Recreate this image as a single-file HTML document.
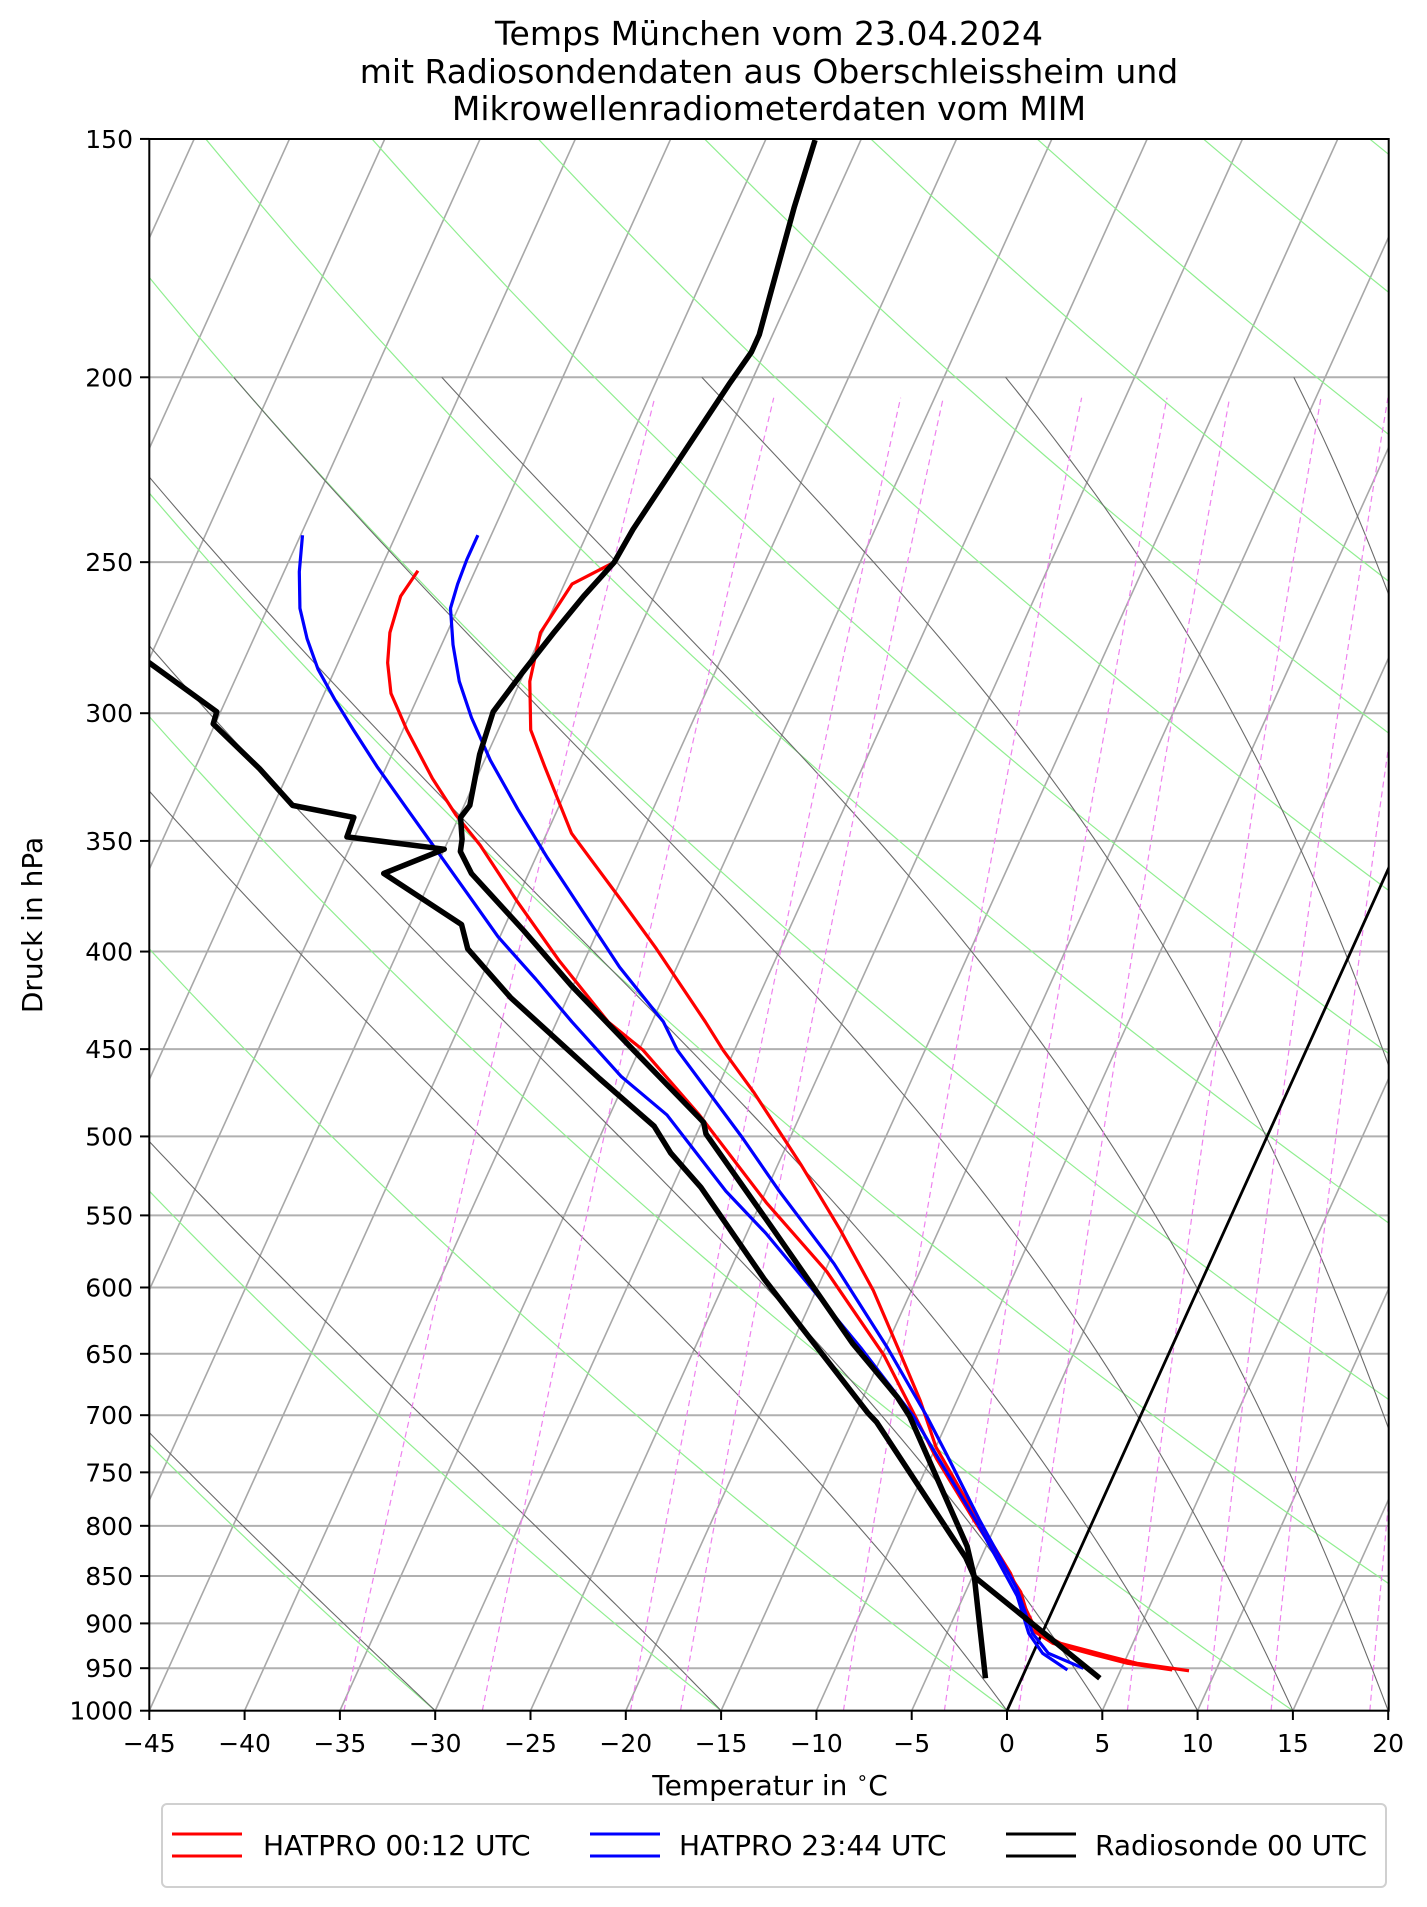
<!DOCTYPE html>
<html><head><meta charset="utf-8"><title>Skew-T</title>
<style>
body{margin:0;background:#fff;}
svg{display:block;font-family:"DejaVu Sans","Liberation Sans",sans-serif;}
</style></head>
<body>
<svg id="chart" width="1427" height="1907" viewBox="0 0 1427 1907" xmlns="http://www.w3.org/2000/svg">
<defs><clipPath id="plotclip"><rect x="149.3" y="139" width="1239.4" height="1571.7"/></clipPath></defs>
<rect width="1427" height="1907" fill="#fff"/>
<g font-size="33" text-anchor="middle" fill="#000">
<text x="769" y="45">Temps München vom 23.04.2024</text>
<text x="769" y="83">mit Radiosondendaten aus Oberschleissheim und</text>
<text x="769" y="120">Mikrowellenradiometerdaten vom MIM</text>
</g>
<g id="bg" clip-path="url(#plotclip)"></g>
<g id="series" clip-path="url(#plotclip)"></g>
<rect x="149.3" y="139" width="1239.4" height="1571.7" fill="none" stroke="#000" stroke-width="2"/>
<g id="axes"></g>
<text x="770" y="1795" font-size="28" text-anchor="middle">Temperatur in <tspan font-size="19" dy="-11">∘</tspan><tspan dy="11">C</tspan></text>
<text x="0" y="0" font-size="28" text-anchor="middle" transform="translate(42,925) rotate(-90)">Druck in hPa</text>
<g>
<rect x="162" y="1804" width="1224" height="83" rx="5" fill="#fff" stroke="#d0d0d0" stroke-width="2"/>
<g>
<line x1="172" y1="1834" x2="242" y2="1834" stroke="#f00" stroke-width="3"/>
<line x1="172" y1="1856" x2="242" y2="1856" stroke="#f00" stroke-width="3"/>
<text x="263" y="1855" font-size="28">HATPRO 00:12 UTC</text></g>
<g>
<line x1="590" y1="1834" x2="660" y2="1834" stroke="#00f" stroke-width="3"/>
<line x1="590" y1="1856" x2="660" y2="1856" stroke="#00f" stroke-width="3"/>
<text x="679" y="1855" font-size="28">HATPRO 23:44 UTC</text></g>
<g>
<line x1="1006" y1="1834" x2="1076" y2="1834" stroke="#000" stroke-width="3"/>
<line x1="1006" y1="1856" x2="1076" y2="1856" stroke="#000" stroke-width="3"/>
<text x="1095" y="1855" font-size="28">Radiosonde 00 UTC</text></g>
</g>
</svg>
<script>
// ---- data ----
const xTicks=[-45,-40,-35,-30,-25,-20,-15,-10,-5,0,5,10,15,20];
const pTicks=[150,200,250,300,350,400,450,500,550,600,650,700,750,800,850,900,950,1000];
const dryT0=[-30,-15,0,15,30,45,60,75,90,105,120,135,150,165,180,195,210];
const moistT0=[-30,-15,0,5,10,15,20,25,30,35];
const mixW=[0.2,0.4,0.8,1,2,3,4,6,8,10,14];
const rsP=[150.2,162.8,180.5,190,194,201.5,210.5,220,229.9,240.3,250,260.5,272.2,285.7,299.5,315.2,335.3,340.2,349.3,354.5,364,390,416.7,450.5,491.6,498.5,559.4,642.3,685,701,820,850.7,961.6];
const rsT=[-47.4,-46.9,-46.1,-45.7,-45.7,-46.1,-46.5,-46.9,-47.3,-47.7,-47.9,-48.7,-49.4,-50.1,-50.7,-50.4,-49.7,-49.9,-49.3,-49.1,-48.0,-43.9,-40.1,-35.3,-29.9,-29.5,-23.7,-16.8,-13.2,-12.1,-6.0,-4.9,4.1];
const rsDP=[270,282.3,299.5,303.9,320.8,335.3,340.2,348.3,353.5,364,387.2,398.7,422.8,466.3,493.9,510.1,531.7,593.9,697.8,705.9,831.3,850.7,961.6];
const rsTd=[-74,-69.9,-65.2,-65.1,-61.6,-59.0,-55.5,-55.4,-50.0,-52.6,-47.3,-46.4,-43.0,-36.4,-32.4,-30.9,-28.5,-23.0,-14.4,-13.7,-5.8,-4.9,-1.9];
const redP=[250,256.7,272.2,288.7,306.1,319.9,346.8,376,398.7,435.4,450.5,473.9,517.2,559.4,602.2,651.2,688.2,727.3,793.9,846.8,878.5,907.2,921.9,935,944.4,952.9];
const redT=[-47.9,-49.6,-50.1,-49.5,-48.3,-46.7,-43.7,-39.5,-36.5,-32.2,-30.6,-28.0,-23.8,-20.2,-17.0,-14.0,-11.9,-10.0,-6.1,-3.1,-1.7,-0.4,1.2,3.8,5.7,8.6];
const redDP=[252.6,260.5,272.2,282.3,292.9,306.1,324.6,339.2,351.9,376,404.6,435.4,450.5,487.2,541.6,588.5,651.2,697.8,737.5,793.9,866.5,907.2,921.9,935,944.4,951.9];
const redTd=[-58.0,-58.3,-58.0,-57.4,-56.5,-54.8,-52.3,-50.2,-48.2,-45.0,-41.3,-37.3,-34.8,-30.3,-24.7,-19.9,-14.9,-12.0,-9.7,-6.3,-2.1,-0.6,0.8,3.3,5.2,7.7];
const blueP=[242,249.2,256.7,264.3,276.2,288.7,301.6,317.5,336.8,357.1,381.5,407.6,435.4,450.5,500.8,534.1,583,645.3,701,734.1,793.9,862.6,910.8,933,950.1];
const blueT=[-55.7,-55.7,-55.6,-55.4,-54.4,-53.2,-51.7,-49.7,-47.1,-44.4,-41.2,-38.0,-34.4,-33.0,-27.5,-24.3,-19.7,-14.9,-11.2,-9.25,-6.0,-2.4,-0.5,0.8,3.0];
const blueDP=[242,252.9,264.3,274.2,284.5,295.1,306.1,319.9,336.8,354.5,373.2,392.9,413.6,435.4,465.2,487.2,534.1,562,599.4,645.3,701,734.1,797.6,870.5,910.8,933,952];
const blueTd=[-64.9,-64.2,-63.3,-62.2,-60.9,-59.3,-57.6,-55.5,-52.9,-50.3,-47.7,-45.1,-42.1,-39.2,-35.3,-32.0,-27.1,-24.0,-20.4,-16.3,-11.9,-9.8,-6.0,-2.2,-0.7,0.5,2.2];

// ---- axes functions ----
const X0=149.3, PXC=19.06, Y0=1710.7, PXL=828.5, SK=0.453;
function yOf(p){return Y0-PXL*Math.log(1000/p);}
function xOf(T,p){return X0+(T+45)*PXC+SK*PXL*Math.log(1000/p);}
const NS='http://www.w3.org/2000/svg';
function mk(tag,attrs,parent){const e=document.createElementNS(NS,tag);for(const k in attrs)e.setAttribute(k,attrs[k]);parent.appendChild(e);return e;}
function pathD(ps,ts){let d='';for(let i=0;i<ps.length;i++){d+=(i?'L':'M')+xOf(ts[i],ps[i]).toFixed(2)+' '+yOf(ps[i]).toFixed(2);}return d;}
const bg=document.getElementById('bg'), ser=document.getElementById('series'), ax=document.getElementById('axes');

pTicks.forEach(p=>{
  const l=mk('line',{x1:149.3,x2:1388.7,y1:yOf(p),y2:yOf(p),stroke:'#b0b0b0','stroke-width':2},bg);
  
  
});
for(let T=-165;T<=20;T+=5){
  const l=mk('line',{x1:xOf(T,1000),y1:yOf(1000),x2:xOf(T,150),y2:yOf(150),stroke:'#a8a8a8','stroke-width':1.6},bg);
  
  
}
dryT0.forEach(t0=>{
  const ps=[],ts=[];
  for(let p=1000;p>=150;p-=10){ps.push(p);ts.push((t0+273.15)*Math.pow(p/1000,0.2857)-273.15);}
  const e=mk('path',{d:pathD(ps,ts),fill:'none',stroke:'#90ee90','stroke-width':1.2},bg);
  
  
});
function es(T){return 6.112*Math.exp(17.67*(T-273.15)/(T-29.65));}
function dTdp(p,T){const e=es(T);const rs=0.622*e/(p-e);const Rd=287.04,Cp=1005.7,Lv=2.501e6;
  return (Rd*T+Lv*rs)/(p*(Cp+Lv*Lv*rs*0.622/(Rd*T*T)));}
moistT0.forEach(t0=>{
  const ps=[1000],ts=[t0];let T=t0+273.15,p=1000,h=-5;
  while(p>200){const k1=dTdp(p,T),k2=dTdp(p+h/2,T+h/2*k1),k3=dTdp(p+h/2,T+h/2*k2),k4=dTdp(p+h,T+h*k3);
    T+=h/6*(k1+2*k2+2*k3+k4);p+=h;ps.push(p);ts.push(T-273.15);}
  const e=mk('path',{d:pathD(ps,ts),fill:'none',stroke:'#6a6a6a','stroke-width':1.1},bg);
  
  
});
mixW.forEach(w=>{
  const ps=[],ts=[];
  for(let p=1000;p>=205;p-=15){const ww=w/1000;const e=ww*p/(0.622+ww);const L=Math.log(e/6.112);ps.push(p);ts.push(243.5*L/(17.67-L));}
  const e=mk('path',{d:pathD(ps,ts),fill:'none',stroke:'#ee82ee','stroke-width':1.2,'stroke-dasharray':'6,4'},bg);
  
  
});
const z=mk('line',{x1:xOf(0,1000),y1:yOf(1000),x2:xOf(0,150),y2:yOf(150),stroke:'#000','stroke-width':2.8},bg);



function series(ps,ts,col,w,name){
  const e=mk('path',{d:pathD(ps,ts),fill:'none',stroke:col,'stroke-width':w,'stroke-linejoin':'round'},ser);
  
  
}
series(redP,redT,'#f00',3.2,'hatpro-0012-temperature');
series(redDP,redTd,'#f00',3.2,'hatpro-0012-dewpoint');
series(blueP,blueT,'#00f',3.2,'hatpro-2344-temperature');
series(blueDP,blueTd,'#00f',3.2,'hatpro-2344-dewpoint');
series(rsP,rsT,'#000',5.5,'radiosonde-temperature');
series(rsDP,rsTd,'#000',5.5,'radiosonde-dewpoint');

xTicks.forEach(T=>{
  const x=xOf(T,1000);
  const t=mk('line',{x1:x,x2:x,y1:1710.7,y2:1720,stroke:'#000','stroke-width':2},ax);
  
  
  const tx=mk('text',{x:x,y:1752,'font-size':25,'text-anchor':'middle'},ax);
  tx.textContent=(T<0?'\u2212'+(-T):String(T));
  
  
});
pTicks.forEach(p=>{
  const y=yOf(p);
  const t=mk('line',{x1:140,x2:149.3,y1:y,y2:y,stroke:'#000','stroke-width':2},ax);
  
  
  const tx=mk('text',{x:133,y:y+9,'font-size':25,'text-anchor':'end'},ax);
  tx.textContent=String(p);
  
  
});
</script>
</body></html>
